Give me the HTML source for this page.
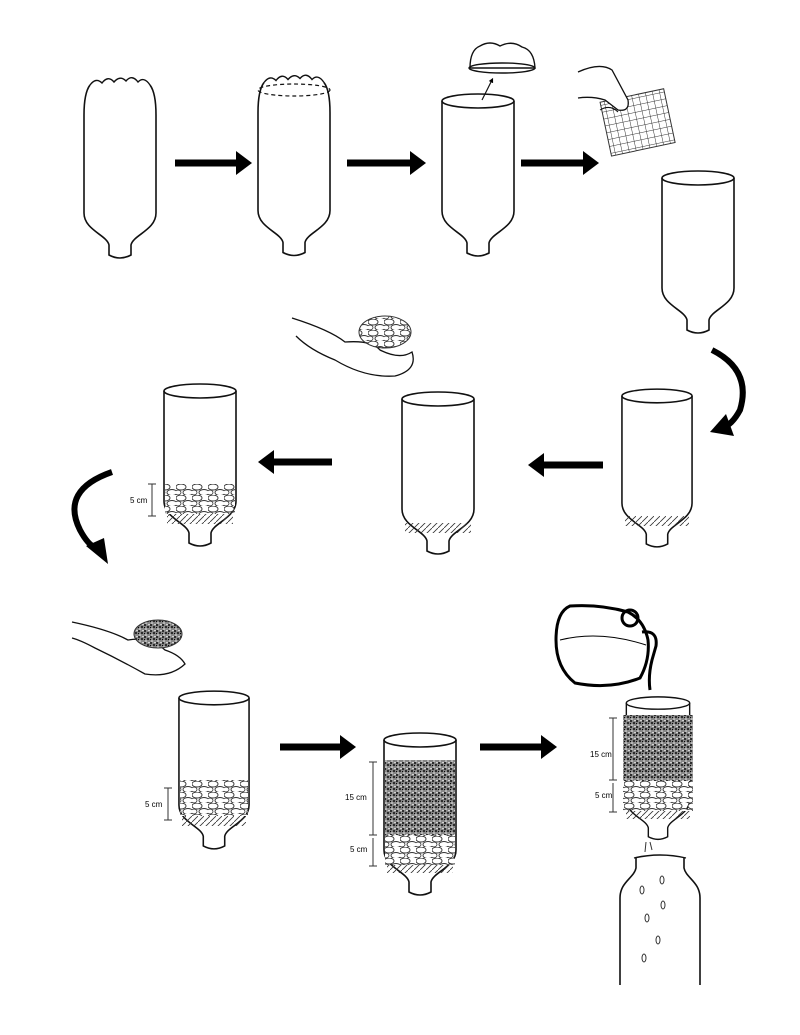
<!DOCTYPE html>
<html><head><meta charset="utf-8"><style>html,body{margin:0;padding:0;background:#fff}svg{display:block}</style></head><body>
<svg width="800" height="1035" viewBox="0 0 800 1035" xmlns="http://www.w3.org/2000/svg" font-family="Liberation Sans, sans-serif">
<defs>
<symbol id="cut" viewBox="0 0 76 166" overflow="visible">
<ellipse cx="38" cy="8" rx="36" ry="7" fill="none" stroke="#111" stroke-width="1.6"/>
<path d="M2 8 L2 118 C2 135 25 140 27 150 L27 160 Q38 166 49 160 L49 150 C51 140 74 135 74 118 L74 8" fill="none" stroke="#111" stroke-width="1.6"/>
</symbol>
<symbol id="full" viewBox="0 0 76 185" overflow="visible">
<path d="M8 10 Q2 18 2 40 L2 138 C2 155 25 160 27 170 L27 180 Q38 186 49 180 L49 170 C51 160 74 155 74 138 L74 40 Q74 18 68 10" fill="none" stroke="#111" stroke-width="1.6"/>
<path d="M8 10 Q14 2 20 8 Q26 0 32 7 Q38 0 44 6 Q50 -1 56 7 Q62 1 68 10" fill="none" stroke="#111" stroke-width="1.4"/>
</symbol>
<pattern id="hatch" width="6" height="6" patternUnits="userSpaceOnUse"><path d="M0 6 L6 0" stroke="#333" stroke-width="0.8"/></pattern>
<pattern id="stones" width="16" height="11" patternUnits="userSpaceOnUse"><ellipse cx="5" cy="3" rx="5" ry="3" fill="#fff" stroke="#333" stroke-width="0.9"/><ellipse cx="12" cy="8.5" rx="5" ry="3" fill="#fff" stroke="#333" stroke-width="0.9"/><ellipse cx="2" cy="8.5" rx="3" ry="2.4" fill="#fff" stroke="#333" stroke-width="0.8"/></pattern>
<pattern id="sand" width="6" height="6" patternUnits="userSpaceOnUse"><rect width="6" height="6" fill="#888"/><circle cx="1" cy="1" r="1" fill="#111"/><circle cx="4" cy="3" r="1.1" fill="#222"/><circle cx="2" cy="5" r="0.8" fill="#eee"/><circle cx="5" cy="0.5" r="0.7" fill="#fff"/><circle cx="0.5" cy="3.5" r="0.6" fill="#000"/></pattern>
<pattern id="grid" width="7" height="7" patternUnits="userSpaceOnUse"><path d="M0 0 H7 M0 0 V7" stroke="#333" stroke-width="1"/></pattern>
<marker id="ah" viewBox="0 0 10 10" refX="5" refY="5" markerWidth="4" markerHeight="4" orient="auto"><path d="M0 0 L10 5 L0 10 Z" fill="#000"/></marker>
</defs>

<use href="#full" x="82" y="75" width="76" height="185"/>
<use href="#full" x="256" y="70" width="76" height="190"/>
<ellipse cx="294" cy="90" rx="36" ry="6" fill="none" stroke="#111" stroke-width="1.2" stroke-dasharray="4 3"/>
<use href="#cut" x="440" y="92" width="76" height="168"/>
<path d="M470 68 Q470 50 480 46 Q490 40 500 46 Q512 40 522 47 Q534 50 535 68 Z" fill="none" stroke="#111" stroke-width="1.4"/>
<ellipse cx="502" cy="68" rx="33" ry="5" fill="none" stroke="#111" stroke-width="1.4"/>
<path d="M482 100 L492 80" stroke="#111" stroke-width="1.2" marker-end="url(#ah)"/>

<line x1="175" y1="163" x2="238" y2="163" stroke="#000" stroke-width="7"/><path d="M236 151 L252 163 L236 175Z"/>
<line x1="347" y1="163" x2="412" y2="163" stroke="#000" stroke-width="7"/><path d="M410 151 L426 163 L410 175Z"/>
<line x1="521" y1="163" x2="585" y2="163" stroke="#000" stroke-width="7"/><path d="M583 151 L599 163 L583 175Z"/>

<rect x="605" y="95" width="65" height="55" fill="url(#grid)" stroke="#333" transform="rotate(-12 637 122)"/>
<path d="M578 72 Q600 62 612 70 L628 100 Q630 112 618 110 L605 100 Q592 96 578 98" fill="#fff" stroke="#111" stroke-width="1.3"/>
<path d="M600 110 Q610 104 618 112" fill="none" stroke="#111"/>

<use href="#cut" x="660" y="170" width="76" height="166"/>
<path d="M712 350 Q752 370 740 410 Q732 425 722 428" fill="none" stroke="#000" stroke-width="6"/><path d="M726 414 L710 432 L734 436Z"/>

<use href="#cut" x="620" y="383" width="74" height="172"/>
<rect x="625" y="516" width="64" height="10" fill="url(#hatch)"/>
<use href="#cut" x="400" y="383" width="76" height="182"/>
<rect x="405" y="523" width="66" height="10" fill="url(#hatch)"/>
<use href="#cut" x="162" y="380" width="76" height="172"/>
<rect x="165" y="484" width="70" height="30" fill="url(#stones)"/>
<rect x="167" y="514" width="66" height="10" fill="url(#hatch)"/>
<path d="M152 484 V516 M148 484 H156 M148 516 H156" stroke="#333"/>
<text x="130" y="503" font-size="8">5 cm</text>

<line x1="603" y1="465" x2="542" y2="465" stroke="#000" stroke-width="7"/><path d="M544 453 L528 465 L544 477Z"/>
<line x1="332" y1="462" x2="272" y2="462" stroke="#000" stroke-width="7"/><path d="M274 450 L258 462 L274 474Z"/>

<path d="M292 318 Q330 330 345 342 Q372 340 380 350 Q400 360 412 352 Q418 370 395 376 Q365 378 335 360 Q310 350 296 336" fill="#fff" stroke="#111" stroke-width="1.3"/>
<ellipse cx="385" cy="332" rx="26" ry="16" fill="url(#stones)" stroke="#333"/>

<path d="M112 472 Q60 490 80 530 Q88 545 96 548" fill="none" stroke="#000" stroke-width="6"/><path d="M86 546 L108 564 L104 538Z"/>

<path d="M72 622 Q110 630 128 640 Q150 636 165 650 Q180 655 185 664 Q170 678 145 674 Q120 660 95 648 Q80 640 72 638" fill="#fff" stroke="#111" stroke-width="1.3"/>
<ellipse cx="158" cy="634" rx="24" ry="14" fill="url(#sand)" stroke="#333"/>

<use href="#cut" x="177" y="688" width="74" height="166"/>
<rect x="180" y="780" width="68" height="36" fill="url(#stones)"/>
<rect x="182" y="816" width="64" height="10" fill="url(#hatch)"/>
<path d="M168 788 V820 M164 788 H172 M164 820 H172" stroke="#333"/>
<text x="145" y="807" font-size="8">5 cm</text>

<line x1="280" y1="747" x2="342" y2="747" stroke="#000" stroke-width="7"/><path d="M340 735 L356 747 L340 759Z"/>
<use href="#cut" x="382" y="730" width="76" height="170"/>
<rect x="385" y="760" width="70" height="75" fill="url(#sand)"/>
<rect x="385" y="835" width="70" height="30" fill="url(#stones)"/>
<rect x="387" y="865" width="66" height="8" fill="url(#hatch)"/>
<path d="M373 762 V835 M369 762 H377 M369 835 H377 M373 838 V866 M369 866 H377" stroke="#333"/>
<text x="345" y="800" font-size="8">15 cm</text>
<text x="350" y="852" font-size="8">5 cm</text>

<line x1="480" y1="747" x2="543" y2="747" stroke="#000" stroke-width="7"/><path d="M541 735 L557 747 L541 759Z"/>

<path d="M570 606 Q556 612 556 640 Q556 668 575 683 Q610 690 640 678 Q650 660 648 640 Q644 620 628 612 Q600 604 570 606 Z" fill="#fff" stroke="#000" stroke-width="3"/>
<path d="M560 640 Q600 630 646 645" fill="none" stroke="#000" stroke-width="1"/>
<circle cx="630" cy="618" r="8" fill="none" stroke="#000" stroke-width="3"/>
<path d="M642 632 Q658 630 656 646 L652 660 Q648 676 650 690" fill="none" stroke="#000" stroke-width="3"/>

<use href="#cut" x="620" y="696" width="76" height="146"/>
<rect x="623" y="715" width="70" height="66" fill="url(#sand)"/>
<rect x="623" y="781" width="70" height="30" fill="url(#stones)"/>
<rect x="626" y="811" width="64" height="8" fill="url(#hatch)"/>
<path d="M613 718 V780 M609 718 H617 M609 780 H617 M613 783 V812 M609 812 H617" stroke="#333"/>
<text x="590" y="757" font-size="8">15 cm</text>
<text x="595" y="798" font-size="8">5 cm</text>
<path d="M646 842 L645 852 M650 842 L652 850" stroke="#333"/>

<path d="M636 858 L636 868 C634 878 620 882 620 898 L620 985 M684 858 L684 868 C686 878 700 882 700 898 L700 985" fill="none" stroke="#111" stroke-width="1.6"/>
<path d="M634 858 Q660 852 686 858" fill="none" stroke="#111" stroke-width="1.4"/>
<g fill="#fff" stroke="#333"><ellipse cx="642" cy="890" rx="2" ry="4"/><ellipse cx="663" cy="905" rx="2" ry="4"/><ellipse cx="647" cy="918" rx="2" ry="4"/><ellipse cx="658" cy="940" rx="2" ry="4"/><ellipse cx="644" cy="958" rx="2" ry="4"/><ellipse cx="662" cy="880" rx="2" ry="4"/></g>
</svg>
</body></html>
